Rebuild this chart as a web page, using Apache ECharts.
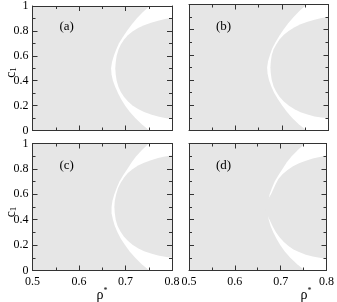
<!DOCTYPE html>
<html><head><meta charset="utf-8">
<script src="https://cdn.jsdelivr.net/npm/echarts@6/dist/echarts.min.js"></script>
<style>html,body{margin:0;padding:0;background:#fff}#c{width:337px;height:302px}</style>
</head><body><div id="c"></div>
<script>
// axis settings
const xRange = [0.5, 0.8];
const yRange = [0, 1];
const panelLabels = ['(a)', '(b)', '(c)', '(d)'];

// left edge of the white region, [rho*, c1] from c1=1 down to c1=0
const outerA = [[0.752,1],[0.737,0.95],[0.724,0.9],[0.713,0.85],[0.703,0.8],[0.694,0.75],[0.686,0.7],[0.680,0.65],[0.675,0.6],[0.671,0.55],[0.669,0.5],[0.670,0.45],[0.673,0.4],[0.678,0.35],[0.684,0.3],[0.691,0.25],[0.699,0.2],[0.709,0.15],[0.721,0.1],[0.735,0.05],[0.751,0]];
const outerB = [[0.753,1],[0.738,0.95],[0.725,0.9],[0.713,0.85],[0.703,0.8],[0.694,0.75],[0.686,0.7],[0.679,0.65],[0.674,0.6],[0.670,0.55],[0.668,0.5],[0.669,0.45],[0.672,0.4],[0.677,0.35],[0.683,0.3],[0.691,0.25],[0.700,0.2],[0.710,0.15],[0.722,0.1],[0.736,0.05],[0.753,0]];
const outerC = [[0.750,1],[0.736,0.95],[0.723,0.9],[0.713,0.85],[0.704,0.8],[0.695,0.75],[0.687,0.7],[0.681,0.65],[0.676,0.6],[0.672,0.55],[0.670,0.5],[0.670,0.45],[0.673,0.4],[0.677,0.35],[0.683,0.3],[0.690,0.25],[0.699,0.2],[0.709,0.15],[0.721,0.1],[0.735,0.05],[0.751,0]];
const outerD = [[0.753,1],[0.738,0.95],[0.724,0.9],[0.713,0.85],[0.704,0.8],[0.695,0.75],[0.687,0.7],[0.681,0.65],[0.676,0.6],[0.673,0.55],[0.671,0.5],[0.672,0.45],[0.674,0.4],[0.678,0.35],[0.684,0.3],[0.691,0.25],[0.699,0.2],[0.709,0.15],[0.721,0.1],[0.736,0.05],[0.753,0]];

// edge of the inner grey region, from the right edge (top) round to the right edge (bottom)
const innerA = [[0.8,0.905],[0.785,0.895],[0.77,0.882],[0.755,0.866],[0.74,0.846],[0.727,0.823],[0.715,0.795],[0.705,0.765],[0.697,0.73],[0.690,0.69],[0.685,0.65],[0.681,0.6],[0.679,0.55],[0.678,0.5],[0.679,0.45],[0.681,0.4],[0.685,0.35],[0.690,0.31],[0.697,0.27],[0.705,0.235],[0.715,0.2],[0.727,0.172],[0.74,0.148],[0.755,0.128],[0.77,0.113],[0.785,0.101],[0.8,0.093]];
const innerB = [[0.8,0.902],[0.785,0.892],[0.77,0.879],[0.755,0.863],[0.74,0.843],[0.727,0.82],[0.715,0.792],[0.704,0.76],[0.695,0.725],[0.688,0.685],[0.682,0.645],[0.678,0.6],[0.676,0.55],[0.675,0.5],[0.676,0.45],[0.678,0.4],[0.682,0.35],[0.688,0.305],[0.695,0.265],[0.704,0.23],[0.715,0.196],[0.727,0.168],[0.74,0.145],[0.755,0.126],[0.77,0.112],[0.785,0.104],[0.8,0.098]];
const innerC = [[0.8,0.908],[0.785,0.898],[0.77,0.885],[0.755,0.869],[0.74,0.849],[0.727,0.826],[0.715,0.798],[0.705,0.767],[0.697,0.732],[0.690,0.692],[0.684,0.65],[0.680,0.6],[0.677,0.55],[0.676,0.5],[0.677,0.45],[0.679,0.4],[0.683,0.35],[0.689,0.31],[0.696,0.27],[0.705,0.235],[0.715,0.202],[0.727,0.175],[0.74,0.152],[0.755,0.133],[0.77,0.118],[0.785,0.108],[0.8,0.1]];
const innerD = [[0.8,0.905],[0.785,0.894],[0.77,0.881],[0.755,0.865],[0.74,0.845],[0.727,0.821],[0.715,0.792],[0.704,0.758],[0.695,0.72],[0.689,0.68],[0.684,0.64],[0.679,0.6],[0.672,0.56],[0.668,0.52],[0.667,0.5],[0.668,0.47],[0.672,0.43],[0.677,0.39],[0.683,0.345],[0.690,0.3],[0.698,0.26],[0.707,0.225],[0.717,0.193],[0.728,0.166],[0.74,0.145],[0.755,0.125],[0.77,0.111],[0.785,0.1],[0.8,0.093]];

const outers = [outerA, outerB, outerC, outerD];
const inners = [innerA, innerB, innerC, innerD];

const FONT = "'Liberation Serif', 'Times New Roman', serif";
const GREY = '#e6e6e6';
const grids = [
  {left: 32.5, top: 4.5, width: 139.5, height: 126},
  {left: 189, top: 4.5, width: 139.5, height: 126},
  {left: 32.5, top: 143.5, width: 139.5, height: 127},
  {left: 189, top: 143.5, width: 139.5, height: 127}
];

const xAxes = [], yAxes = [], series = [];
grids.forEach((g, i) => {
  g.show = true; g.backgroundColor = GREY; g.borderWidth = 0;
  const bottomRow = i >= 2, leftCol = i % 2 === 0;
  ['bottom', 'top'].forEach(pos => {
    xAxes.push({
      type: 'value', gridIndex: i, position: pos, min: xRange[0], max: xRange[1], interval: 0.1, z: 5,
      axisLine: {show: true, onZero: false, lineStyle: {color: '#333', width: 1}},
      axisTick: {show: true, inside: true, length: 5, lineStyle: {color: '#333'}},
      minorTick: {show: true, splitNumber: 2, length: 3, lineStyle: {color: '#333'}},
      splitLine: {show: false},
      axisLabel: {show: pos === 'bottom' && bottomRow, margin: 5, color: '#000', fontFamily: FONT, fontSize: 12}
    });
  });
  ['left', 'right'].forEach(pos => {
    yAxes.push({
      type: 'value', gridIndex: i, position: pos, min: yRange[0], max: yRange[1], interval: 0.2, z: 5,
      axisLine: {show: true, onZero: false, lineStyle: {color: '#333', width: 1}},
      axisTick: {show: true, inside: true, length: 5, lineStyle: {color: '#333'}},
      minorTick: {show: true, splitNumber: 2, length: 3, lineStyle: {color: '#333'}},
      splitLine: {show: false},
      axisLabel: {show: pos === 'left' && leftCol, margin: 4, color: '#000', fontFamily: FONT, fontSize: 12}
    });
  });
  const white = outers[i].concat([[xRange[1], yRange[0]], [xRange[1], yRange[1]]]);
  const grey = inners[i];
  series.push({
    type: 'custom', xAxisIndex: i * 2, yAxisIndex: i * 2, clip: true, z: 2, silent: true,
    data: [[xRange[0], yRange[0]]],
    renderItem: function (params, api) {
      return {type: 'group', children: [
        {type: 'polygon', shape: {points: white.map(d => api.coord(d))}, style: {fill: '#ffffff'}},
        {type: 'polygon', shape: {points: grey.map(d => api.coord(d))}, style: {fill: GREY}}
      ]};
    }
  });
});

const graphic = [];
panelLabels.forEach((t, i) => {
  const g = grids[i];
  graphic.push({type: 'text', left: g.left + 27, top: g.top + 16, z: 10,
    style: {text: t, font: '13px ' + FONT, fill: '#000'}});
});
[0, 2].forEach(i => {
  const g = grids[i];
  graphic.push({type: 'text', x: 11, y: g.top + g.height / 2 + 5, rotation: Math.PI / 2, z: 10,
    style: {text: '{c|c}{s|1}', align: 'center', verticalAlign: 'middle',
      rich: {c: {font: '14px ' + FONT, fill: '#000'}, s: {font: '9px ' + FONT, fill: '#000', padding: [6, 0, 0, 0]}}}});
});
[[102, 295], [306, 295]].forEach(p => {
  graphic.push({type: 'text', x: p[0], y: p[1], z: 10,
    style: {text: '{r|ρ}{s|*}', align: 'center', verticalAlign: 'middle',
      rich: {r: {font: '14px ' + FONT, fill: '#000'}, s: {font: '8px ' + FONT, fill: '#000', padding: [0, 0, 8, 0]}}}});
});

const chart = echarts.init(document.getElementById('c'), null, {renderer: 'canvas'});
chart.setOption({animation: false, grid: grids, xAxis: xAxes, yAxis: yAxes, series: series, graphic: graphic});
</script></body></html>
